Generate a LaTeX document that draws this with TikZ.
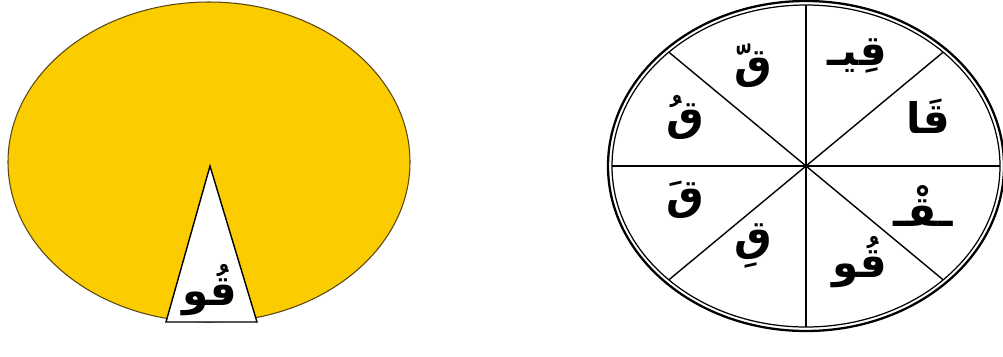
\documentclass[tikz,border=0pt]{standalone}
\usepackage{fontspec}
\newfontfamily\arabicfont[Script=Arabic]{DejaVu Sans}
\TeXXeTstate=1
\definecolor{cheese}{RGB}{251, 204, 0}
\definecolor{rim}{RGB}{90, 70, 20}
\usetikzlibrary{positioning}

\begin{document}
\begin{tikzpicture}[x=0.02cm,y=-0.02cm,
	harf/.style={font=\arabicfont\bfseries\fontsize{24}{28}\selectfont, inner sep=1pt}]
	\useasboundingbox (0,0) rectangle (1003,356);
	% cheese with the missing slice
	\fill[cheese, draw=rim, line width=0.6pt] (209,162) ellipse [x radius=201, y radius=160];
	\coordinate (tip) at (210,166);
	\coordinate (bl) at (166,322);
	\coordinate (br) at (257,322);
	\filldraw[fill=white, draw=black, line width=0.8pt] (tip) -- (bl) -- (br) -- cycle;
	\node[harf] (slice) at (210,290) {\beginR قُو\endR};

	% wheel
	\coordinate (c) at (806,166);
	\draw[line width=1.3pt] (c) ellipse [x radius=198, y radius=165];
	\draw[line width=0.7pt] (c) ellipse [x radius=194, y radius=161];
	\foreach \a in {0,45,...,315}
	\draw[line width=0.8pt] (c) -- ++(\a:194 and 161);

	\node[harf] (qiy) at (857,56) {\beginR قِيـ\endR};
	\node[harf] (qsh) at (753,66) {\beginR قّ\endR};
	\node[harf] (qu) at (685,117) {\beginR قُ\endR};
	\node[harf] (qaa) at (928,116) {\beginR قَا\endR};
	\node[harf] (qa) at (685,200) {\beginR قَ\endR};
	\node[harf] (qsk) at (923,206) {\beginR ـقْـ\endR};
	\node[harf] (qi) at (753,246) {\beginR قِ\endR};
	\node[harf] (quu) at (860,262) {\beginR قُو\endR};
\end{tikzpicture}
\end{document}
